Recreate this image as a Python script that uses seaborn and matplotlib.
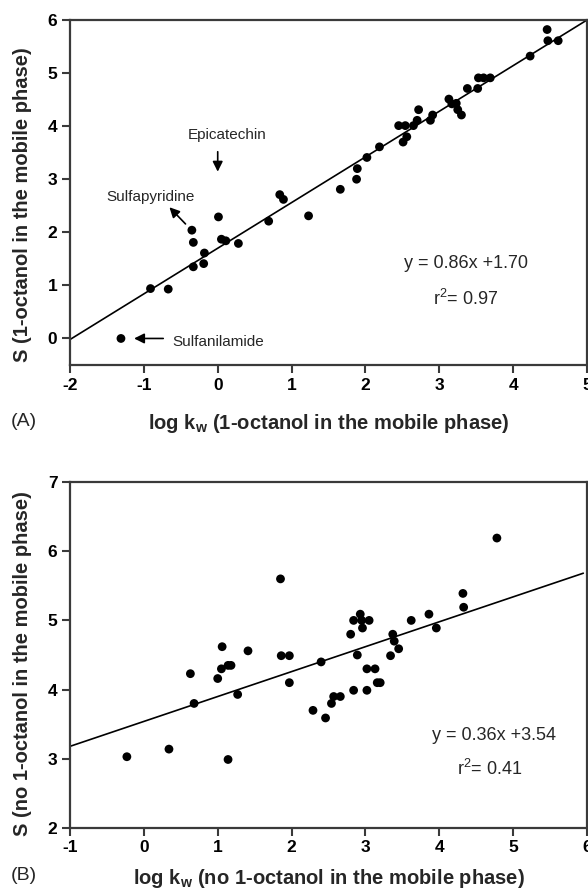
import matplotlib
matplotlib.use("Agg")
import matplotlib.pyplot as plt
import numpy as np
import pandas as pd
import seaborn as sns

# panel A: 1-octanol in the mobile phase
a_logkw = [-1.31, -0.91, -0.67, -0.35, -0.33, -0.33, -0.19, -0.18, 0.01, 0.05, 0.11, 0.28,
           0.69, 0.84, 0.89, 1.23, 1.66, 1.88, 1.89, 2.02, 2.19, 2.45, 2.54, 2.51, 2.56, 2.65,
           2.70, 2.72, 2.88, 2.91, 3.13, 3.17, 3.23, 3.25, 3.30, 3.38, 3.52, 3.53, 3.60, 3.69,
           4.23, 4.46, 4.47, 4.61]
a_s = [0.00, 0.94, 0.93, 2.04, 1.81, 1.35, 1.41, 1.61, 2.29, 1.87, 1.84, 1.79,
       2.21, 2.71, 2.62, 2.31, 2.81, 3.00, 3.20, 3.41, 3.61, 4.01, 4.01, 3.70, 3.80, 4.01,
       4.11, 4.31, 4.11, 4.21, 4.51, 4.42, 4.43, 4.31, 4.21, 4.71, 4.71, 4.91, 4.91, 4.91,
       5.32, 5.82, 5.61, 5.61]
a_slope, a_intercept, a_r2 = 0.86, 1.70, 0.97

# panel B: no 1-octanol in the mobile phase
b_logkw = [-0.23, 0.34, 1.14, 0.63, 0.68, 1.00, 1.05, 1.06, 1.14, 1.18, 1.27, 1.41,
           1.85, 1.86, 1.97, 1.97, 2.29, 2.40, 2.46, 2.54, 2.57, 2.66, 2.80, 2.84, 2.84,
           2.89, 2.93, 2.95, 2.96, 3.02, 3.02, 3.05, 3.13, 3.16, 3.20, 3.34, 3.37, 3.39,
           3.45, 3.62, 3.86, 3.96, 4.32, 4.33, 4.78]
b_s = [3.03, 3.14, 2.99, 4.23, 3.80, 4.16, 4.30, 4.62, 4.35, 4.35, 3.93, 4.56,
       5.60, 4.49, 4.49, 4.10, 3.70, 4.40, 3.59, 3.80, 3.90, 3.90, 4.80, 5.00, 3.99,
       4.50, 5.09, 5.00, 4.89, 4.30, 3.99, 5.00, 4.30, 4.10, 4.10, 4.49, 4.80, 4.70,
       4.59, 5.00, 5.09, 4.89, 5.39, 5.19, 6.19]
b_slope, b_intercept, b_r2 = 0.36, 3.54, 0.41

sns.set_theme(style="ticks")
plt.rcParams["font.family"] = ["Liberation Sans", "DejaVu Sans"]
plt.rcParams["mathtext.fontset"] = "custom"
plt.rcParams["mathtext.rm"] = "Liberation Sans"
plt.rcParams["mathtext.bf"] = "Liberation Sans:bold"
plt.rcParams["axes.unicode_minus"] = False

fig = plt.figure(figsize=(5.88, 8.92), dpi=100)
W, H = 588, 892
ax_a = fig.add_axes([70 / W, 1 - 365 / H, 517 / W, 345 / H])
ax_b = fig.add_axes([70 / W, 1 - 828 / H, 517 / W, 346 / H])


def style_axes(ax, xlim, ylim, yticks, xticks):
    ax.set_xlim(*xlim)
    ax.set_ylim(*ylim)
    ax.set_xticks(xticks)
    ax.set_yticks(yticks)
    for sp in ax.spines.values():
        sp.set_visible(True)
        sp.set_linewidth(1.6)
        sp.set_color("#3a3a3a")
    ax.tick_params(direction="out", length=6, width=1.5, color="#3a3a3a",
                   labelsize=12.5, pad=3, labelcolor="black")
    for lab in ax.get_xticklabels() + ax.get_yticklabels():
        lab.set_fontweight("bold")


def draw_panel(ax, xs, ys, slope, intercept, xline):
    df = pd.DataFrame({"x": xs, "y": ys})
    sns.scatterplot(data=df, x="x", y="y", ax=ax, color="black", s=40,
                    edgecolor="none", zorder=3)
    xl = np.array(xline)
    line = pd.DataFrame({"x": xl, "y": slope * xl + intercept})
    sns.lineplot(data=line, x="x", y="y", ax=ax, color="black", linewidth=1.2)


def set_labels(ax, xlabel, ylabel, xlab_y, ylab_y):
    ax.set_xlabel(xlabel, fontsize=14.5, fontweight="bold")
    ax.set_ylabel(ylabel, fontsize=14.5, fontweight="bold")
    ax.xaxis.set_label_coords(0.5, xlab_y)
    ax.xaxis.label.set_va("center")
    ax.yaxis.set_label_coords(-0.091, ylab_y)
    ax.yaxis.label.set_va("center")


# ----- panel A
draw_panel(ax_a, a_logkw, a_s, a_slope, a_intercept, [-2, 5])
style_axes(ax_a, (-2, 5), (-0.5, 6), range(0, 7), range(-2, 6))
set_labels(ax_a, r"log k$_{\mathbf{w}}$ (1-octanol in the mobile phase)",
           "S (1-octanol in the mobile phase)", -0.171, 0.464)
ax_a.text(3.36, 1.42, f"y = {a_slope:.2f}x +{a_intercept:.2f}", fontsize=13,
          ha="center", va="center")
ax_a.text(3.36, 0.75, r"r$^{\mathregular{2}}$= " + f"{a_r2:.2f}", fontsize=13,
          ha="center", va="center")
arrow = dict(arrowstyle="-|>", color="black", lw=1.2, mutation_scale=15)
ax_a.annotate("", xy=(0.0, 3.09), xytext=(0.0, 3.57), arrowprops=arrow)
ax_a.text(0.13, 3.83, "Epicatechin", fontsize=11, ha="center", va="center")
ax_a.annotate("", xy=(-0.68, 2.51), xytext=(-0.41, 2.12), arrowprops=arrow)
ax_a.text(-0.91, 2.66, "Sulfapyridine", fontsize=11, ha="center", va="center")
ax_a.annotate("", xy=(-1.17, 0.0), xytext=(-0.70, 0.0), arrowprops=arrow)
ax_a.text(-0.62, -0.07, "Sulfanilamide", fontsize=11, ha="left", va="center")

# ----- panel B
draw_panel(ax_b, b_logkw, b_s, b_slope, b_intercept, [-1, 5.95])
style_axes(ax_b, (-1, 6), (2, 7), range(2, 8), range(-1, 7))
set_labels(ax_b, r"log k$_{\mathbf{w}}$ (no 1-octanol in the mobile phase)",
           "S (no 1-octanol in the mobile phase)", -0.147, 0.475)
ax_b.text(4.74, 3.33, f"y = {b_slope:.2f}x +{b_intercept:.2f}", fontsize=13,
          ha="center", va="center")
ax_b.text(4.68, 2.86, r"r$^{\mathregular{2}}$= " + f"{b_r2:.2f}", fontsize=13,
          ha="center", va="center")

fig.text(11 / W, 1 - 421 / H, "(A)", fontsize=14, va="center", ha="left")
fig.text(11 / W, 1 - 876 / H, "(B)", fontsize=14, va="center", ha="left")

fig.savefig("out.png", dpi=100)
